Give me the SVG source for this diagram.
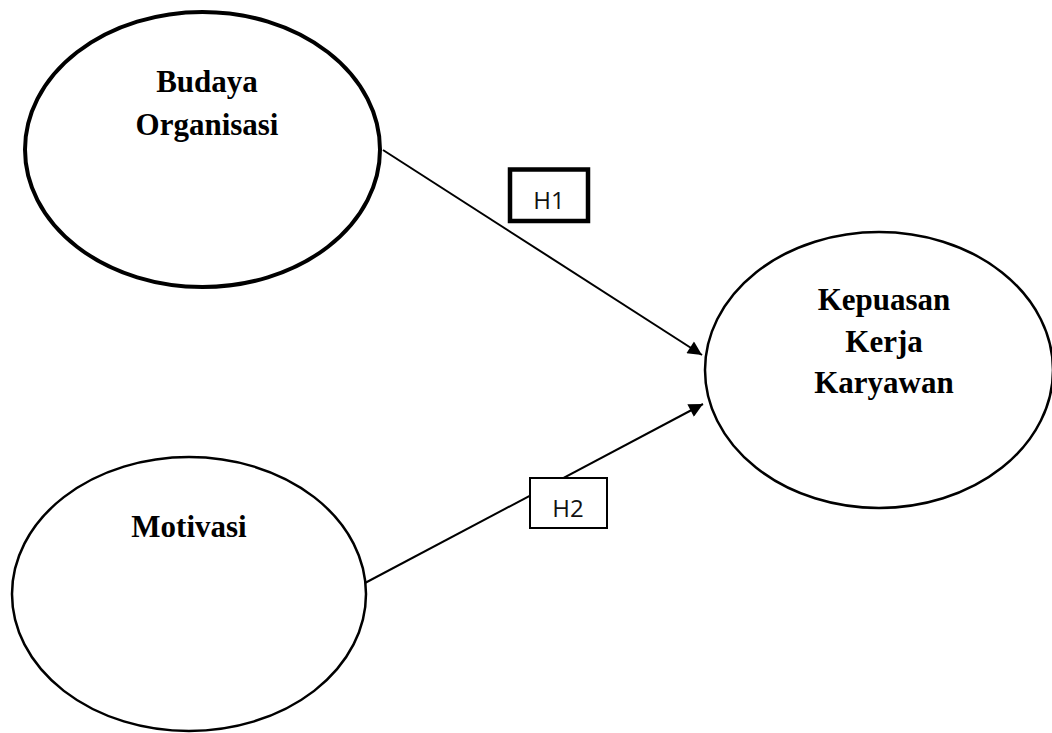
<svg xmlns="http://www.w3.org/2000/svg" width="1052" height="733" viewBox="0 0 1052 733">
  <defs>
    <marker id="arrow" viewBox="0 0 10 10" refX="10" refY="5" markerWidth="8" markerHeight="7" markerUnits="strokeWidth" orient="auto">
      <path d="M0,0 L10,5 L0,10 z" fill="#000"/>
    </marker>
    <style>
      .node { fill: #fff; stroke: #000; }
      .lbl { font-family: "Liberation Serif", "Times New Roman", serif; font-weight: bold; font-size: 31px; text-anchor: middle; fill: #000; }
      .hyp { font-family: "Open Sans", "Noto Sans", sans-serif; font-size: 24px; text-anchor: middle; fill: #111; }
      .conn { stroke: #000; stroke-width: 2; fill: none; }
    </style>
  </defs>
  <rect width="1052" height="733" fill="#fff"/>
  <g id="connectors">
    <line class="conn" x1="383" y1="150" x2="702" y2="355" marker-end="url(#arrow)"/>
    <line class="conn" x1="365" y1="583" x2="703" y2="404" marker-end="url(#arrow)"/>
  </g>
  <g id="budaya">
    <ellipse class="node" cx="202.5" cy="149.5" rx="177.5" ry="137.5" stroke-width="4"/>
    <text class="lbl" x="207" y="92">Budaya</text>
    <text class="lbl" x="207" y="135">Organisasi</text>
  </g>
  <g id="motivasi">
    <ellipse class="node" cx="189" cy="594" rx="177" ry="137" stroke-width="2.5"/>
    <text class="lbl" x="189" y="537">Motivasi</text>
  </g>
  <g id="kepuasan">
    <ellipse class="node" cx="879" cy="370" rx="174" ry="138" stroke-width="2.5"/>
    <text class="lbl" x="884" y="310">Kepuasan</text>
    <text class="lbl" x="884" y="352">Kerja</text>
    <text class="lbl" x="884" y="393">Karyawan</text>
  </g>
  <g id="h1">
    <rect x="510" y="169.5" width="78" height="51.5" fill="#fff" stroke="#000" stroke-width="4.5"/>
    <text class="hyp" x="549" y="209">H1</text>
  </g>
  <g id="h2">
    <rect x="530" y="478" width="77" height="50" fill="#fff" stroke="#000" stroke-width="2"/>
    <text class="hyp" x="568" y="517">H2</text>
  </g>
</svg>
